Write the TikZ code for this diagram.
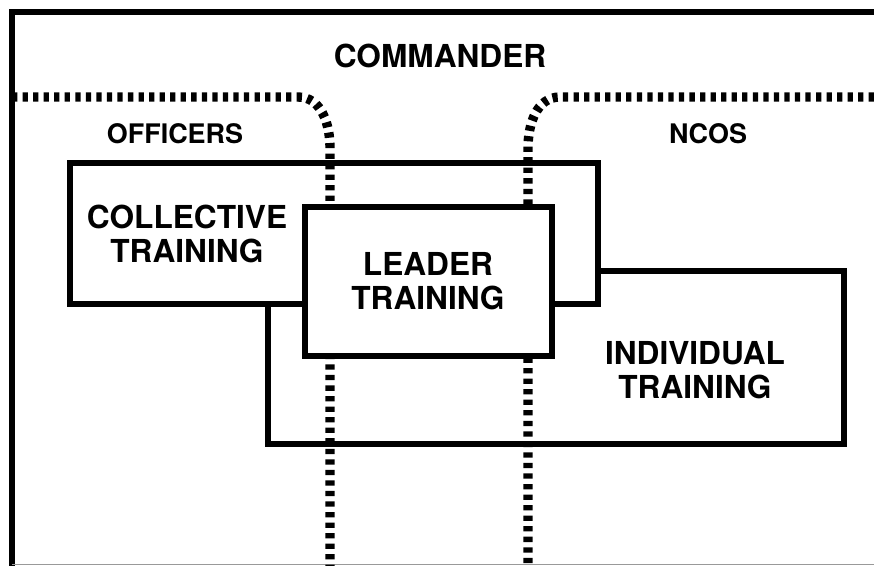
\documentclass[tikz,border=0pt]{standalone}
\usepackage{fontspec}
\setmainfont{TeX Gyre Heros}
\tikzset{
  trainbox/.style={draw=black, fill=white, line width=5pt},
  border/.style={draw=black, line width=4.5pt},
  divider/.style={draw=black, line width=8pt, dash pattern=on 4.5pt off 4.5pt},
  biglabel/.style={font=\fontsize{27}{28.5}\selectfont\bfseries, align=center},
  smalllabel/.style={font=\fontsize{23}{24}\selectfont\bfseries}
}
\begin{document}
\begin{tikzpicture}[x=0.3mm, y=-0.3mm]
  \useasboundingbox (0, 0) rectangle (874, 566);

  % outer frame: left and top heavy, bottom a thin grey rule
  \draw[border] (12, 566) -- (12, 12) -- (874, 12);
  \draw[black!40, line width=0.8pt] (12, 564) -- (874, 564);

  % individual and collective training boxes (leader box goes on top later)
  \draw[trainbox] (268, 271) rectangle (844, 444);
  \draw[trainbox] (70, 163) rectangle (598, 304);

  % dividing lines between officers and NCOs
  \draw[divider] (12, 97) -- (298, 97) to[out=0, in=90] (330, 148) -- (330, 566);
  \draw[divider] (874, 97) -- (560, 97) to[out=180, in=90] (528, 148) -- (528, 566);

  % leader training box
  \draw[trainbox] (305, 207) rectangle (552, 356);

  % labels
  \node[biglabel] (cmdr) at (440, 56) {COMMANDER};
  \node[smalllabel] (off) at (175, 134) {OFFICERS};
  \node[smalllabel] (nco) at (708, 134) {NCOS};
  \node[biglabel] (coll) at (187, 234) {COLLECTIVE\\TRAINING};
  \node[biglabel] (lead) at (428, 281) {LEADER\\TRAINING};
  \node[biglabel] (indiv) at (695, 370) {INDIVIDUAL\\TRAINING};
\end{tikzpicture}
\end{document}
